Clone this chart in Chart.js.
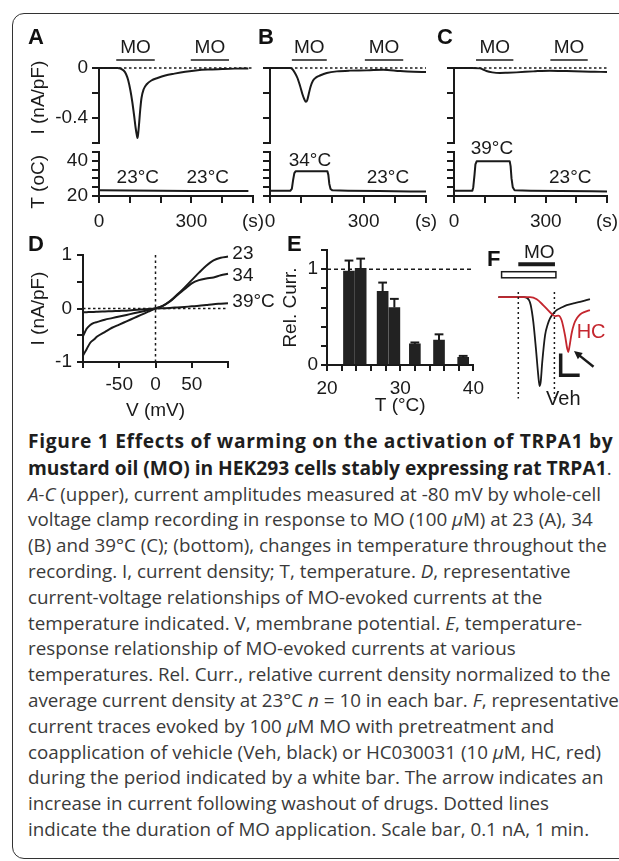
<!DOCTYPE html>
<html lang="en">
<head>
<meta charset="UTF-8">
<title>Figure 1 - TRPA1 and warming</title>
<script src="https://cdn.jsdelivr.net/npm/chart.js"></script>
<style>
  html, body { margin: 0; padding: 0; background: #fff; }
  body { width: 619px; height: 861px; position: relative; overflow: hidden; font-family: "Liberation Sans", Arial, sans-serif; }
  #frame { position: absolute; left: 12px; top: 13px; width: 640px; height: 846px; border: 1.5px solid #333; border-radius: 12px; box-sizing: border-box; }
  canvas { position: absolute; }
  .panel { position: absolute; font-weight: bold; font-size: 22px; line-height: 22px; color: #111; }
  #caption { position: absolute; left: 28px; top: 428px; font-family: "Open Sans", sans-serif; font-size: 18.8px; line-height: 25.8px; color: #3a3a3a; white-space: nowrap; }
  #caption b { color: #1e1e1e; font-size: 19.2px; }
  #caption .wide { letter-spacing: 0.7px; }
</style>
</head>
<body>
<div id="frame"></div>

<canvas id="aTop"></canvas><canvas id="aBot"></canvas>
<canvas id="bTop"></canvas><canvas id="bBot"></canvas>
<canvas id="cTop"></canvas><canvas id="cBot"></canvas>
<canvas id="dChart"></canvas>
<canvas id="eChart"></canvas>
<canvas id="fChart"></canvas>

<div class="panel" style="left:28px;top:26px">A</div>
<div class="panel" style="left:258px;top:26px">B</div>
<div class="panel" style="left:437px;top:26px">C</div>
<div class="panel" style="left:28px;top:233px">D</div>
<div class="panel" style="left:287px;top:233px">E</div>
<div class="panel" style="left:487px;top:248px">F</div>

<div id="caption">
<div><b class="wide">Figure 1 Effects of warming on the activation of TRPA1 by</b></div>
<div><b>mustard oil (MO) in HEK293 cells stably expressing rat TRPA1</b>.</div>
<div><i>A-C</i> (upper), current amplitudes measured at -80 mV by whole-cell</div>
<div>voltage clamp recording in response to MO (100 <i>μ</i>M) at 23 (A), 34</div>
<div>(B) and 39°C (C); (bottom), changes in temperature throughout the</div>
<div>recording. I, current density; T, temperature. <i>D</i>, representative</div>
<div>current-voltage relationships of MO-evoked currents at the</div>
<div>temperature indicated. V, membrane potential. <i>E</i>, temperature-</div>
<div>response relationship of MO-evoked currents at various</div>
<div>temperatures. Rel. Curr., relative current density normalized to the</div>
<div>average current density at 23°C <i>n</i> = 10 in each bar. <i>F</i>, representative</div>
<div>current traces evoked by 100 <i>μ</i>M MO with pretreatment and</div>
<div>coapplication of vehicle (Veh, black) or HC030031 (10 <i>μ</i>M, HC, red)</div>
<div>during the period indicated by a white bar. The arrow indicates an</div>
<div>increase in current following washout of drugs. Dotted lines</div>
<div>indicate the duration of MO application. Scale bar, 0.1 nA, 1 min.</div>
</div>

<script>
// ---------- data ----------

// A-C upper: current density (nA/pF) at -80 mV vs time (s)
const timeA = [0, 60, 70, 80, 88, 95, 102, 108, 114, 119, 123, 125, 127, 130, 134, 138, 145, 155, 170, 190, 215, 245, 280, 320, 360, 400, 440, 485];
const currA = [0, 0, -0.005, -0.02, -0.05, -0.10, -0.18, -0.27, -0.38, -0.48, -0.54, -0.56, -0.53, -0.45, -0.33, -0.24, -0.17, -0.13, -0.10, -0.08, -0.06, -0.045, -0.03, -0.018, -0.012, -0.008, -0.005, -0.004];
const timeB = [0, 65, 72, 80, 88, 96, 104, 110, 115, 119, 124, 130, 138, 148, 160, 182, 214, 256, 310, 363, 417, 460, 500];
const currB = [0, 0, -0.01, -0.04, -0.08, -0.14, -0.21, -0.25, -0.27, -0.26, -0.21, -0.15, -0.10, -0.075, -0.06, -0.04, -0.027, -0.021, -0.019, -0.013, -0.024, -0.03, -0.032];
const timeC = [0, 60, 85, 95, 106, 125, 150, 175, 204, 259, 313, 368, 420, 460, 500];
const currC = [0, 0, -0.003, -0.012, -0.024, -0.035, -0.04, -0.038, -0.035, -0.027, -0.021, -0.024, -0.028, -0.03, -0.032];

// A-C lower: bath temperature (°C) vs time (s)
const tempTimeA = [0, 100, 200, 300, 400, 485];
const tempA = [23.2, 23.1, 23.0, 22.9, 22.9, 22.8];
const tempTimeB = [0, 65, 70, 74, 78, 82, 120, 184, 187, 190, 194, 200, 250, 350, 450, 500];
const tempB = [23, 23, 24, 29, 33, 34, 34, 34, 32, 27, 24, 23.2, 23, 22.8, 22.6, 22.5];
const tempTimeC = [0, 60, 63, 67, 70, 74, 120, 182, 185, 188, 192, 198, 250, 350, 450, 500];
const tempC = [23, 23, 25, 32, 38, 39.7, 39.8, 39.8, 37, 30, 25, 23.3, 23, 22.8, 22.7, 22.6];

// MO application periods (s)
const moA = [[56, 181], [298, 422]];
const moB = [[70, 182], [304, 427]];
const moC = [[72, 194], [315, 437]];

// D: current-voltage relationships
const voltD = [-100, -95, -90, -85, -80, -70, -60, -50, -40, -30, -20, -10, 0, 10, 20, 30, 40, 50, 60, 70, 80, 90, 100];
const iv23 = [-0.88, -0.76, -0.64, -0.58, -0.52, -0.44, -0.36, -0.30, -0.24, -0.18, -0.12, -0.06, 0, 0.05, 0.14, 0.26, 0.39, 0.53, 0.67, 0.80, 0.90, 0.95, 0.97];
const iv34 = [-0.52, -0.38, -0.31, -0.27, -0.25, -0.21, -0.18, -0.15, -0.12, -0.09, -0.06, -0.03, 0, 0.05, 0.13, 0.25, 0.36, 0.47, 0.53, 0.56, 0.58, 0.62, 0.65];
const iv39 = [-0.07, -0.07, -0.065, -0.065, -0.06, -0.055, -0.05, -0.045, -0.04, -0.03, -0.02, -0.01, 0, 0.005, 0.01, 0.02, 0.03, 0.04, 0.05, 0.065, 0.08, 0.09, 0.1];

// E: relative current vs temperature
const tempE = [23, 24.6, 27.6, 29.2, 32, 35.3, 38.6];
const relCurr = [0.98, 1.01, 0.77, 0.60, 0.22, 0.26, 0.08];
const relErr = [0.11, 0.10, 0.09, 0.09, 0.015, 0.06, 0.015];

// F: current traces (nA) vs time (min, 0 = MO on)
const timeVeh = [-1.05, 0.3, 0.44, 0.55, 0.65, 0.79, 0.93, 1.05, 1.12, 1.18, 1.26, 1.41, 1.55, 1.67, 1.85, 2.02, 2.3, 2.55, 2.9, 3.25, 3.5, 3.77];
const currVeh = [0, 0, -0.003, -0.012, -0.035, -0.114, -0.24, -0.36, -0.41, -0.39, -0.30, -0.175, -0.125, -0.098, -0.075, -0.06, -0.047, -0.037, -0.029, -0.022, -0.016, -0.009];
const timeHC = [-1.05, 0.62, 0.97, 1.32, 1.67, 1.93, 2.11, 2.28, 2.46, 2.58, 2.63, 2.7, 2.8, 2.93, 3.1, 3.25, 3.5, 3.77];
const currHC = [0, 0, -0.01, -0.038, -0.07, -0.088, -0.085, -0.107, -0.177, -0.24, -0.253, -0.225, -0.17, -0.125, -0.095, -0.08, -0.068, -0.06];
const moF = [0, 1.9];            // MO on/off (min)
const pretreatF = [-0.88, 1.98]; // white bar (min)

// ---------- styling helpers ----------
const INK = '#1a1a1a';
const RED = '#c4262e';
const SANS = '"Liberation Sans", Arial, sans-serif';
const F19 = { family: SANS, size: 19 };
const NB = '\u00a0';

Chart.defaults.animation = false;
Chart.defaults.responsive = false;
Chart.defaults.font.family = SANS;
Chart.defaults.color = INK;
Chart.defaults.plugins.legend.display = false;
Chart.defaults.plugins.tooltip.enabled = false;

const key = v => String(Math.round(v * 1000) / 1000);

function axis(o) {
  return {
    type: 'linear', min: o.min, max: o.max, display: o.show !== false, offset: false,
    ticks: {
      stepSize: o.step, autoSkip: false, maxRotation: 0, padding: o.pad != null ? o.pad : 4,
      color: INK, font: F19,
      callback: v => (o.labels && o.labels[key(v)]) || ''
    },
    grid: { display: true, offset: false, drawOnChartArea: false, drawTicks: true, tickLength: o.tick || 7, color: INK, lineWidth: 2 },
    border: { display: true, color: INK, width: 2 },
    title: o.title
      ? { display: true, text: o.title, color: INK, font: F19, padding: { top: o.titlePad || 0, bottom: o.titlePad || 0 } }
      : { display: false }
  };
}

function line(xs, ys, color, width, extra) {
  return Object.assign({
    type: 'line',
    data: xs.map((x, i) => ({ x: x, y: ys[i] })),
    borderColor: color, borderWidth: width, pointRadius: 0, fill: false,
    cubicInterpolationMode: 'monotone', borderJoinStyle: 'round', clip: false
  }, extra || {});
}

// text, bars, boxes and arrows placed in data units through the chart's scales
function marks(spec) {
  return {
    id: 'marks',
    afterDatasetsDraw(chart) {
      const ctx = chart.ctx;
      const X = v => chart.scales.x.getPixelForValue(v);
      const Y = v => chart.scales.y.getPixelForValue(v);
      ctx.save();
      (spec.rects || []).forEach(r => {
        const x0 = X(r.x0), x1 = X(r.x1), y0 = Y(r.y0), y1 = Y(r.y1);
        ctx.fillStyle = '#fff';
        ctx.strokeStyle = INK;
        ctx.lineWidth = r.lw;
        ctx.fillRect(x0, Math.min(y0, y1), x1 - x0, Math.abs(y1 - y0));
        ctx.strokeRect(x0, Math.min(y0, y1), x1 - x0, Math.abs(y1 - y0));
      });
      (spec.segs || []).forEach(s => {
        ctx.beginPath();
        s.pts.forEach((p, i) => i ? ctx.lineTo(X(p[0]), Y(p[1])) : ctx.moveTo(X(p[0]), Y(p[1])));
        ctx.strokeStyle = s.color || INK;
        ctx.lineWidth = s.lw;
        ctx.lineCap = 'butt';
        ctx.setLineDash(s.dash || []);
        ctx.stroke();
      });
      ctx.setLineDash([]);
      (spec.arrows || []).forEach(a => {
        const x0 = X(a.from[0]), y0 = Y(a.from[1]), x1 = X(a.to[0]), y1 = Y(a.to[1]);
        const ang = Math.atan2(y1 - y0, x1 - x0);
        ctx.strokeStyle = INK; ctx.fillStyle = INK; ctx.lineWidth = a.lw;
        ctx.beginPath();
        ctx.moveTo(x0, y0);
        ctx.lineTo(x1 - Math.cos(ang) * a.head * 0.8, y1 - Math.sin(ang) * a.head * 0.8);
        ctx.stroke();
        ctx.beginPath();
        ctx.moveTo(x1, y1);
        ctx.lineTo(x1 - a.head * Math.cos(ang - 0.45), y1 - a.head * Math.sin(ang - 0.45));
        ctx.lineTo(x1 - a.head * Math.cos(ang + 0.45), y1 - a.head * Math.sin(ang + 0.45));
        ctx.closePath();
        ctx.fill();
      });
      (spec.texts || []).forEach(t => {
        ctx.font = (t.size || 19) + 'px ' + SANS;
        ctx.fillStyle = t.color || INK;
        ctx.textAlign = t.align || 'center';
        ctx.textBaseline = 'alphabetic';
        ctx.fillText(t.text, X(t.x), Y(t.y));
      });
      ctx.restore();
    }
  };
}

// place a canvas and size layout so the chart area lands on `area`
function makeChart(id, box, area, padLeft, cfg) {
  const c = document.getElementById(id);
  c.width = box.w; c.height = box.h;
  c.style.left = box.x + 'px'; c.style.top = box.y + 'px';
  const sx = cfg.options.scales.x, sy = cfg.options.scales.y;
  const showX = sx.display !== false, showY = sy.display !== false;
  const left = showY ? padLeft : area.l - box.x;
  if (showY) sy.afterFit = s => { s.width = area.l - box.x - padLeft; };
  if (showX) sx.afterFit = s => { s.height = box.y + box.h - area.b; };
  cfg.options.layout = { padding: {
    left: left, top: area.t - box.y, right: box.x + box.w - area.r,
    bottom: showX ? 0 : box.y + box.h - area.b
  } };
  return new Chart(c, cfg);
}

// ---------- A-C time courses ----------
const upperArea = (l, r) => ({ l: l, r: r, t: 68, b: 143 });
const lowerArea = (l, r) => ({ l: l, r: r, t: 152, b: 196 });
const MO_BAR_Y = 0.064, MO_TEXT_Y = 0.12;

function moMarks(periods) {
  return marks({
    segs: periods.map(p => ({ pts: [[p[0], MO_BAR_Y], [p[1], MO_BAR_Y]], lw: 1.5 })),
    texts: periods.map(p => ({ text: 'MO', x: (p[0] + p[1]) / 2, y: MO_TEXT_Y }))
  });
}

function upperChart(id, box, area, padLeft, t, cur, mo, withLabels) {
  return makeChart(id, box, area, padLeft, {
    type: 'line',
    data: { datasets: [
      line([0, 500], [0, 0], INK, 1.5, { borderDash: [2.5, 2.5], cubicInterpolationMode: 'default' }),
      line(t, cur, INK, 2)
    ] },
    options: { scales: {
      x: { type: 'linear', min: 0, max: 500, display: false },
      y: axis({ min: -0.6, max: 0, step: 0.2,
        labels: withLabels ? { '0': '0', '-0.4': '-0.4' } : null,
        title: withLabels ? NB + NB + NB + 'I (nA/pF)' : null, titlePad: 7 })
    } },
    plugins: [moMarks(mo)]
  });
}

function lowerChart(id, box, area, padLeft, t, temp, notes, withLabels) {
  return makeChart(id, box, area, padLeft, {
    type: 'line',
    data: { datasets: [ line(t, temp, INK, 2, { cubicInterpolationMode: 'default', tension: 0 }) ] },
    options: { scales: {
      x: axis({ min: 0, max: 500, step: 100, pad: 7, labels: { '0': '0', '300': '300', '500': '(s)' } }),
      y: axis({ min: 20, max: 45, step: 5,
        labels: withLabels ? { '20': '20', '40': '40' } : null,
        title: withLabels ? 'T (oC)' + NB + NB + NB : null, titlePad: 7 })
    } },
    plugins: [marks({ texts: notes })]
  });
}

upperChart('aTop', { x: 0, y: 30, w: 275, h: 130 }, upperArea(99, 253), 20, timeA, currA, moA, true);
upperChart('bTop', { x: 250, y: 30, w: 195, h: 130 }, upperArea(270, 426), 0, timeB, currB, moB, false);
upperChart('cTop', { x: 434, y: 30, w: 200, h: 130 }, upperArea(454, 607), 0, timeC, currC, moC, false);

lowerChart('aBot', { x: 0, y: 134, w: 275, h: 106 }, lowerArea(99, 253), 20, tempTimeA, tempA,
  [{ text: '23°C', x: 126, y: 27.6 }, { text: '23°C', x: 353, y: 27.6 }], true);
lowerChart('bBot', { x: 250, y: 134, w: 195, h: 106 }, lowerArea(270, 426), 0, tempTimeB, tempB,
  [{ text: '34°C', x: 128, y: 36.9 }, { text: '23°C', x: 378, y: 27.6 }], false);
lowerChart('cBot', { x: 434, y: 134, w: 200, h: 106 }, lowerArea(454, 607), 0, tempTimeC, tempC,
  [{ text: '39°C', x: 124, y: 43.8 }, { text: '23°C', x: 380, y: 27.6 }], false);

// ---------- D: I-V ----------
makeChart('dChart', { x: 0, y: 235, w: 285, h: 190 }, { l: 83, r: 228, t: 255, b: 362 }, 20, {
  type: 'line',
  data: { datasets: [
    line([-100, 100], [0, 0], INK, 1.5, { borderDash: [2.5, 2.5], cubicInterpolationMode: 'default' }),
    line([0, 0], [-1, 1], INK, 1.5, { borderDash: [2.5, 3], cubicInterpolationMode: 'default' }),
    line(voltD, iv39, INK, 2),
    line(voltD, iv34, INK, 2),
    line(voltD, iv23, INK, 2)
  ] },
  options: { scales: {
    x: axis({ min: -100, max: 100, step: 50, pad: 5, tick: 6,
      labels: { '-50': '-50', '0': '0', '50': '50' }, title: 'V (mV)', titlePad: 3 }),
    y: axis({ min: -1, max: 1, step: 0.5, pad: 5, tick: 6,
      labels: { '1': '1', '0': '0', '-1': '-1' }, title: 'I (nA/pF)', titlePad: 7 })
  } },
  plugins: [marks({ texts: [
    { text: '23', x: 106, y: 0.93, align: 'left' },
    { text: '34', x: 106, y: 0.52, align: 'left' },
    { text: '39°C', x: 106, y: 0.02, align: 'left' }
  ] })]
});

// ---------- E: temperature-response ----------
makeChart('eChart', { x: 270, y: 232, w: 220, h: 188 }, { l: 327, r: 475, t: 250, b: 365 }, 8, {
  type: 'bar',
  data: { datasets: [
    { type: 'bar', data: tempE.map((t, i) => ({ x: t, y: relCurr[i] })), backgroundColor: '#222', borderWidth: 0, barThickness: 11, order: 1 },
    line([20, 40], [1, 1], INK, 1.5, { borderDash: [4, 3], cubicInterpolationMode: 'default', order: 2 })
  ] },
  options: { scales: {
    x: axis({ min: 20, max: 40, step: 2, pad: 6, tick: 6,
      labels: { '20': '20', '30': '30', '40': '40' }, title: 'T (°C)', titlePad: 3 }),
    y: axis({ min: 0, max: 1.2, step: 0.2, pad: 3, tick: 6,
      labels: { '0': '0', '1': '1' }, title: 'Rel. Curr.', titlePad: 1 })
  } },
  plugins: [marks({
    segs: tempE.map((t, i) => ({ pts: [[t, relCurr[i]], [t, relCurr[i] + relErr[i]]], lw: 2 }))
      .concat(tempE.map((t, i) => ({ pts: [[t - 0.6, relCurr[i] + relErr[i]], [t + 0.6, relCurr[i] + relErr[i]]], lw: 2 })))
  })]
});

// ---------- F: HC030031 vs vehicle ----------
makeChart('fChart', { x: 486, y: 232, w: 133, h: 184 }, { l: 486, r: 619, t: 232, b: 416 }, 0, {
  type: 'line',
  data: { datasets: [
    line([moF[0], moF[0]], [0.024, -0.467], INK, 1.5, { borderDash: [2, 3], cubicInterpolationMode: 'default' }),
    line([moF[1], moF[1]], [0.024, -0.467], INK, 1.5, { borderDash: [2, 3], cubicInterpolationMode: 'default' }),
    line(timeHC, currHC, RED, 1.8),
    line(timeVeh, currVeh, INK, 1.8)
  ] },
  options: { scales: {
    x: { type: 'linear', min: -1.7, max: 5.3, display: false },
    y: { type: 'linear', min: -0.548, max: 0.3, display: false }
  } },
  plugins: [marks({
    rects: [{ x0: pretreatF[0], x1: pretreatF[1], y0: 0.117, y1: 0.089, lw: 1.5 }],
    segs: [
      { pts: [[moF[0], 0.151], [1.93, 0.151]], lw: 4 },
      { pts: [[2.23, -0.26], [2.23, -0.36], [3.23, -0.36]], lw: 3.5 }
    ],
    arrows: [{ from: [3.96, -0.321], to: [2.93, -0.249], lw: 2.5, head: 9 }],
    texts: [
      { text: 'MO', x: 1.1, y: 0.178 },
      { text: 'HC', x: 3.07, y: -0.188, align: 'left', color: RED, size: 20 },
      { text: 'Veh', x: 2.37, y: -0.498, size: 20 }
    ]
  })]
});
</script>
</body>
</html>
